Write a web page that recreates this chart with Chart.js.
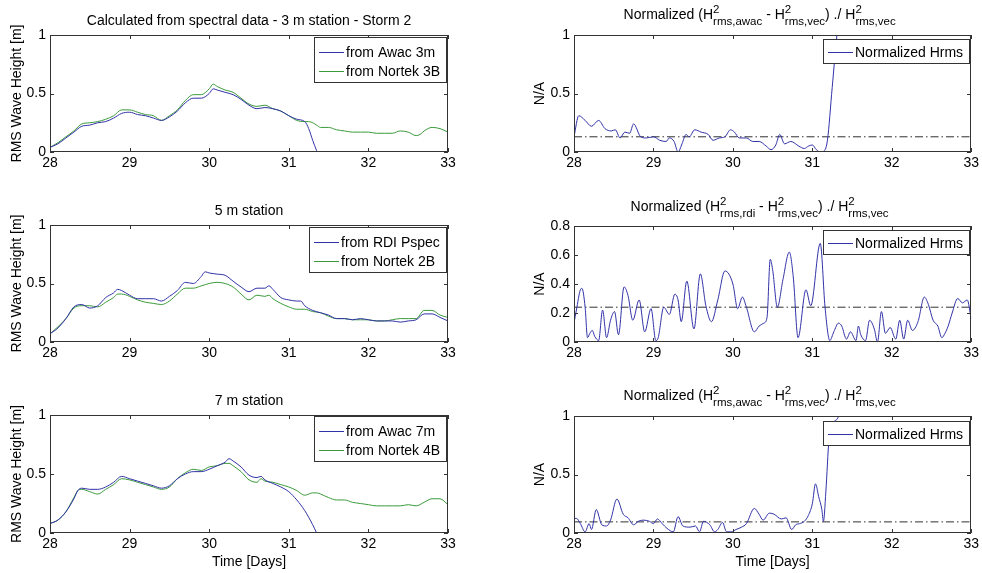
<!DOCTYPE html>
<html><head><meta charset="utf-8">
<script src="https://cdn.jsdelivr.net/npm/chart.js@4/dist/chart.umd.min.js"></script>
<style>
html,body{margin:0;padding:0;background:#fff;}
#wrap{position:relative;width:982px;height:573px;overflow:hidden;background:#fff;}
canvas{position:absolute;}
</style></head><body><div id="wrap">
<canvas id="c1" width="490" height="190" style="left:0;top:0"></canvas>
<canvas id="c2" width="492" height="190" style="left:490px;top:0"></canvas>
<canvas id="c3" width="490" height="190" style="left:0;top:190px"></canvas>
<canvas id="c4" width="492" height="190" style="left:490px;top:190px"></canvas>
<canvas id="c5" width="490" height="193" style="left:0;top:380px"></canvas>
<canvas id="c6" width="492" height="193" style="left:490px;top:380px"></canvas>
</div>
<script>
// ---------------- DATA ----------------
const xTicks = [28, 29, 30, 31, 32, 33];
const yTicksH = [0, 0.5, 1];
const yTicksN = [0, 0.2, 0.4, 0.6, 0.8];

// 3 m station
const days3m = [28.0,28.1,28.2,28.3,28.4,28.5,28.6,28.7,28.8,28.9,29.0,29.1,29.2,29.3,29.4,29.5,29.6,29.7,29.8,29.9,30.0,30.05,30.1,30.2,30.3,30.4,30.5,30.6,30.7,30.8,30.9,31.0,31.1,31.2,31.25,31.3,31.35,31.4,31.5,31.6,31.7,31.8,31.9,32.0,32.1,32.2,32.3,32.4,32.5,32.6,32.65,32.7,32.8,32.9,33.0];
const awac3m = [0.04,0.07,0.12,0.17,0.22,0.23,0.25,0.26,0.29,0.33,
  0.34,0.32,0.31,0.29,0.27,0.30,0.35,0.42,0.46,0.46,
  0.50,0.54,
  0.53,0.51,0.49,0.45,0.40,0.37,0.38,0.37,0.35,0.31,0.28,0.26,
  0.20,0.10,0.01,
  null,null,null,null,null,null,null,null,null,null,null,null,null,null,null,null,null,null];
const nortek3B = [0.04,0.08,0.13,0.18,0.24,0.25,0.26,0.28,0.31,0.36,
  0.36,0.34,0.32,0.31,0.27,0.31,0.36,0.44,0.49,0.49,
  0.54,0.58,
  0.56,0.53,0.51,0.46,0.41,0.39,0.40,0.37,0.35,0.31,0.27,0.26,
  0.26,0.25,0.23,
  0.21,0.21,0.19,0.18,0.17,0.17,0.17,0.16,0.16,0.16,0.18,0.17,0.14,
  0.15,
  0.18,0.21,0.20,0.17];

// 5 m station
const days5m = [28.0,28.1,28.2,28.3,28.4,28.5,28.6,28.7,28.8,28.85,28.9,29.0,29.1,29.2,29.3,29.4,29.5,29.6,29.7,29.8,29.9,29.95,30.0,30.1,30.2,30.3,30.4,30.5,30.6,30.7,30.75,30.8,30.9,31.0,31.1,31.15,31.2,31.3,31.4,31.5,31.6,31.7,31.8,31.9,32.0,32.1,32.2,32.3,32.4,32.5,32.6,32.7,32.8,32.9,33.0];
const rdiPspec = [0.07,0.12,0.20,0.30,0.32,0.29,0.31,0.38,0.42,
  0.45,
  0.44,0.40,0.37,0.37,0.37,0.35,0.39,0.44,0.51,0.50,0.56,
  0.60,
  0.59,0.58,0.57,0.52,0.47,0.43,0.46,0.46,
  0.48,
  0.45,0.38,0.36,0.35,
  0.35,
  0.31,0.27,0.25,0.23,0.20,0.20,0.19,0.20,0.19,0.18,0.18,0.18,0.17,0.18,0.19,0.24,0.24,0.21,0.18];
const nortek2B = [0.07,0.13,0.20,0.29,0.31,0.31,0.30,0.34,0.38,
  0.41,
  0.41,0.39,0.36,0.34,0.33,0.32,0.35,0.41,0.46,0.46,0.48,
  0.49,
  0.50,0.51,0.50,0.47,0.41,0.36,0.40,0.39,
  0.40,
  0.37,0.33,0.30,0.28,
  0.28,
  0.28,0.26,0.25,0.22,0.20,0.20,0.19,0.19,0.19,0.18,0.18,0.19,0.20,0.20,0.20,0.27,0.27,0.23,0.21];

// 7 m station
const days7m = [28.0,28.1,28.2,28.3,28.35,28.4,28.5,28.6,28.7,28.8,28.9,29.0,29.1,29.2,29.3,29.4,29.5,29.6,29.7,29.8,29.9,30.0,30.1,30.2,30.25,30.3,30.4,30.5,30.6,30.65,30.7,30.8,30.9,31.0,31.1,31.2,31.3,31.35,31.4,31.5,31.6,31.7,31.8,31.9,32.0,32.1,32.2,32.3,32.4,32.5,32.6,32.7,32.8,32.9,33.0];
const awac7m = [0.08,0.11,0.18,0.29,
  0.36,
  0.38,0.37,0.37,0.39,0.43,0.48,0.46,0.44,0.42,0.40,0.38,0.40,0.46,0.50,0.52,0.52,0.54,0.57,0.60,
  0.63,
  0.61,0.56,0.49,0.47,
  0.48,
  0.45,0.42,0.39,0.35,0.28,0.19,0.07,
  0.0,
  null,null,null,null,null,null,null,null,null,null,null,null,null,null,null,null,null];
const nortek4B = [0.08,0.11,0.18,0.30,
  0.36,
  0.37,0.35,0.33,0.37,0.41,0.46,0.45,0.43,0.41,0.39,0.37,0.39,0.46,0.51,0.54,0.53,0.56,0.57,0.59,
  0.59,
  0.57,0.52,0.45,0.43,
  0.46,
  0.44,0.43,0.41,0.39,0.36,0.32,0.34,
  0.34,
  0.33,0.30,0.28,0.28,0.26,0.25,0.24,0.23,0.23,0.23,0.23,0.24,0.23,0.26,0.29,0.29,0.24];

// Normalized Hrms (awac, 3 m)
const normDays3m = [28.0,28.06,28.14,28.22,28.31,28.39,28.47,28.52,28.58,28.64,28.70,28.75,28.84,28.91,29.0,29.08,29.16,29.2,29.26,29.31,29.36,29.41,29.45,29.52,29.60,29.69,29.75,29.83,29.90,29.97,30.02,30.08,30.17,30.25,30.33,30.42,30.48,30.54,30.59,30.65,30.73,30.83,30.90,30.95,31.0,31.05,31.1,31.15,31.19,31.25,31.31,31.35];
const normHrms3m = [0.13,0.31,0.27,0.22,0.27,0.20,0.18,0.19,0.12,0.17,0.16,0.24,0.13,0.12,0.13,0.10,0.09,0.12,0.09,0.00,0.07,0.15,0.13,0.19,0.17,0.15,0.10,0.12,0.13,0.19,0.17,0.12,0.12,0.09,0.09,0.05,0.02,0.06,0.15,0.07,0.09,0.05,0.03,0.05,0.06,0.02,0.0,0.01,0.10,0.55,1.0,1.2];
const meanNorm3m = 0.13;

// Normalized Hrms (rdi, 5 m)
const normDays5m = [28.0,28.03,28.08,28.10,28.14,28.17,28.20,28.23,28.26,28.31,28.36,28.41,28.46,28.51,28.56,28.63,28.68,28.74,28.82,28.89,28.97,29.03,29.06,29.13,29.20,29.27,29.31,29.35,29.42,29.51,29.59,29.66,29.73,29.81,29.90,30.00,30.06,30.12,30.17,30.27,30.33,30.39,30.43,30.47,30.50,30.56,30.63,30.71,30.76,30.82,30.92,30.98,31.10,31.16,31.22,31.27,31.33,31.37,31.43,31.48,31.55,31.58,31.61,31.67,31.72,31.78,31.82,31.87,31.92,31.98,32.05,32.10,32.15,32.20,32.26,32.33,32.41,32.46,32.52,32.58,32.63,32.67,32.71,32.76,32.83,32.89,32.95,33.00];
const normHrms5m = [0.13,0.22,0.36,0.37,0.24,0.03,0.06,0.08,0.04,0.01,0.22,0.03,0.15,0.21,0.05,0.38,0.32,0.15,0.29,0.07,0.23,0.01,0.03,0.24,0.19,0.33,0.29,0.14,0.42,0.09,0.47,0.25,0.14,0.29,0.49,0.40,0.23,0.31,0.24,0.07,0.11,0.13,0.17,0.57,0.50,0.24,0.43,0.62,0.45,0.03,0.36,0.25,0.68,0.24,0.01,0.07,0.13,0.11,0.02,0.07,0.01,0.11,0.05,0.01,0.15,0.09,0.00,0.21,0.06,0.10,0.02,0.15,0.02,0.15,0.08,0.14,0.31,0.26,0.15,0.11,0.03,0.06,0.11,0.20,0.30,0.27,0.29,0.16];
const meanNorm5m = 0.24;

// Normalized Hrms (awac, 7 m)
const normDays7m = [28.0,28.03,28.08,28.14,28.19,28.22,28.28,28.35,28.41,28.46,28.54,28.62,28.68,28.75,28.81,28.87,28.95,29.0,29.05,29.11,29.17,29.25,29.31,29.37,29.46,29.53,29.58,29.63,29.71,29.77,29.81,29.87,29.92,29.98,30.04,30.11,30.17,30.27,30.33,30.38,30.46,30.52,30.61,30.67,30.74,30.79,30.84,30.90,30.95,31.00,31.04,31.08,31.12,31.14,31.17,31.21,31.27,31.33,31.36];
const normHrms7m = [0.125,0.125,0.08,0.01,0.08,0.03,0.20,0.07,0.06,0.11,0.29,0.16,0.13,0.07,0.10,0.11,0.10,0.08,0.12,0.08,0.04,0.01,0.14,0.06,0.05,0.06,0.01,0.10,0.07,0.01,0.03,0.09,0.01,0.01,0.03,0.05,0.08,0.21,0.16,0.11,0.17,0.16,0.12,0.13,0.03,0.07,0.08,0.10,0.15,0.25,0.42,0.31,0.20,0.10,0.35,0.80,0.95,1.0,1.2];
const meanNorm7m = 0.095;

// ---------------- STYLE ----------------
const FONT = '"Liberation Sans", Arial, Helvetica, sans-serif';
const BLUE = '#3232a8', GREEN = '#3a9a3a', AXIS = '#333333', MEAN = '#303030';

const titleAwac = [{t:'Normalized (H'},{sup:'2',sub:'rms,awac'},{t:' - H'},{sup:'2',sub:'rms,vec'},{t:') ./ H'},{sup:'2',sub:'rms,vec'}];
const titleRdi  = [{t:'Normalized (H'},{sup:'2',sub:'rms,rdi'},{t:' - H'},{sup:'2',sub:'rms,vec'},{t:') ./ H'},{sup:'2',sub:'rms,vec'}];

const matlabPlugin = {
  id: 'matlab',
  afterDraw(chart, args, o) {
    const ctx = chart.ctx, a = chart.chartArea, xs = chart.scales.x, ys = chart.scales.y;
    const L = Math.round(a.left), T = Math.round(a.top), R = Math.round(a.right), B = Math.round(a.bottom);
    ctx.save();
    ctx.setLineDash([]);
    ctx.strokeStyle = AXIS; ctx.lineWidth = 1;
    // inward ticks on all sides
    ctx.beginPath();
    xs.ticks.forEach(t => {
      const p = Math.round(xs.getPixelForValue(t.value)) + 0.5;
      ctx.moveTo(p, B); ctx.lineTo(p, B - 4);
      ctx.moveTo(p, T); ctx.lineTo(p, T + 4);
    });
    ys.ticks.forEach(t => {
      const p = Math.round(ys.getPixelForValue(t.value)) + 0.5;
      ctx.moveTo(L, p); ctx.lineTo(L + 4, p);
      ctx.moveTo(R, p); ctx.lineTo(R - 4, p);
    });
    ctx.stroke();
    ctx.strokeRect(L + 0.5, T + 0.5, R - L - 1, B - T - 1);

    // title
    ctx.fillStyle = '#000';
    ctx.textAlign = 'left'; ctx.textBaseline = 'alphabetic';
    const segs = o.title;
    const mainF = '14px ' + FONT, subF = '11.5px ' + FONT;
    const widths = segs.map(s => {
      if (s.t !== undefined) { ctx.font = mainF; return ctx.measureText(s.t).width; }
      ctx.font = subF; return Math.max(ctx.measureText(s.sup).width, ctx.measureText(s.sub).width);
    });
    const total = widths.reduce((p, q) => p + q, 0);
    let x = (a.left + a.right) / 2 - total / 2 + (o.titleShift || 0);
    const base = a.top - o.titleGap;
    segs.forEach((s, i) => {
      if (s.t !== undefined) { ctx.font = mainF; ctx.fillText(s.t, x, base); }
      else { ctx.font = subF; ctx.fillText(s.sup, x, base - 6); ctx.fillText(s.sub, x, base + 6); }
      x += widths[i];
    });

    // legend
    const entries = chart.data.datasets.filter(d => !d.isMean).map(d => ({label: d.label, color: d.borderColor}));
    ctx.font = '14px ' + FONT;
    const tw = Math.max(...entries.map(e => ctx.measureText(e.label).width));
    const bw = Math.round(32 + tw + 6);
    const bh = entries.length === 1 ? 24 : 45;
    const bx = R - 2 - bw, by = T + o.legendDy;
    ctx.fillStyle = '#fff';
    ctx.fillRect(bx, by, bw, bh);
    ctx.strokeStyle = AXIS;
    ctx.strokeRect(bx + 0.5, by + 0.5, bw, bh);
    ctx.textBaseline = 'middle';
    entries.forEach((e, i) => {
      const cy = entries.length === 1 ? by + 13 : by + 15 + i * 19;
      ctx.setLineDash([]);
      ctx.strokeStyle = e.color; ctx.lineWidth = 1;
      ctx.beginPath(); ctx.moveTo(bx + 5, cy + 0.5); ctx.lineTo(bx + 30, cy + 0.5); ctx.stroke();
      ctx.fillStyle = '#000';
      ctx.fillText(e.label, bx + 32, cy + 1);
    });
    ctx.restore();
  }
};

function fmtTick(v) { return String(Number(Number(v).toFixed(2))); }

function makeChart(id, o) {
  const cv = document.getElementById(id);
  const W = cv.width, H = cv.height, A = o.area;
  const datasets = o.series.map(s => ({
    label: s.label,
    data: s.x.map((xv, i) => ({x: xv, y: s.y[i]})),
    borderColor: s.color, backgroundColor: s.color, borderWidth: 1, pointRadius: 0,
    fill: false, cubicInterpolationMode: 'monotone', spanGaps: false
  }));
  if (o.mean !== undefined) {
    datasets.push({label: 'mean', isMean: true,
      data: [{x: xTicks[0], y: o.mean}, {x: xTicks[xTicks.length - 1], y: o.mean}],
      borderColor: MEAN, borderWidth: 1, borderDash: [8, 3, 1.5, 3], pointRadius: 0, fill: false});
  }
  const tickFont = {family: FONT, size: 14};
  return new Chart(cv, {
    type: 'line',
    data: {datasets},
    options: {
      responsive: false, animation: false, devicePixelRatio: 1,
      layout: {padding: {left: 0, top: A[1], right: W - A[2], bottom: 0}},
      plugins: {legend: {display: false}, tooltip: {enabled: false}, title: {display: false},
        matlab: {title: o.title, titleGap: o.titleGap, titleShift: o.titleShift, legendDy: o.legendDy}},
      scales: {
        x: {type: 'linear', min: xTicks[0], max: xTicks[xTicks.length - 1],
          afterBuildTicks: s => { s.ticks = xTicks.map(v => ({value: v})); },
          ticks: {padding: 3, color: '#000', font: tickFont, maxRotation: 0, autoSkip: false, callback: fmtTick},
          grid: {display: false, drawTicks: false}, border: {display: false},
          title: {display: !!o.xTitle, text: o.xTitle || '', color: '#000', font: tickFont, padding: {top: 0, bottom: 2}},
          afterFit: s => { s.height = H - A[3]; }},
        y: {type: 'linear', min: o.yTicks[0], max: o.yTicks[o.yTicks.length - 1],
          afterBuildTicks: s => { s.ticks = o.yTicks.map(v => ({value: v})); },
          ticks: {padding: 4, color: '#000', font: tickFont, callback: fmtTick},
          grid: {display: false, drawTicks: false}, border: {display: false},
          title: {display: true, text: o.yTitle, color: '#000', font: tickFont, padding: {top: o.yTitlePad, bottom: 0}},
          afterFit: s => { s.width = A[0]; }}
      }
    },
    plugins: [matlabPlugin]
  });
}

makeChart('c1', {area: [50, 35, 448, 152], yTicks: yTicksH, yTitle: 'RMS Wave Height [m]', yTitlePad: 9,
  title: [{t: 'Calculated from spectral data - 3 m station - Storm 2'}], titleGap: 10, legendDy: 2,
  series: [{label: 'from Awac 3m', color: BLUE, x: days3m, y: awac3m},
           {label: 'from Nortek 3B', color: GREEN, x: days3m, y: nortek3B}]});
makeChart('c2', {area: [84, 35, 482, 152], yTicks: yTicksH, yTitle: 'N/A', yTitlePad: 42,
  title: titleAwac, titleGap: 16, titleShift: -13, legendDy: 4, mean: meanNorm3m,
  series: [{label: 'Normalized Hrms', color: BLUE, x: normDays3m, y: normHrms3m}]});
makeChart('c3', {area: [50, 35, 448, 152], yTicks: yTicksH, yTitle: 'RMS Wave Height [m]', yTitlePad: 9,
  title: [{t: '5 m station'}], titleGap: 10, legendDy: 2,
  series: [{label: 'from RDI Pspec', color: BLUE, x: days5m, y: rdiPspec},
           {label: 'from Nortek 2B', color: GREEN, x: days5m, y: nortek2B}]});
makeChart('c4', {area: [84, 36, 482, 152], yTicks: yTicksN, yTitle: 'N/A', yTitlePad: 42,
  title: titleRdi, titleGap: 15, titleShift: -13, legendDy: 4, mean: meanNorm5m,
  series: [{label: 'Normalized Hrms', color: BLUE, x: normDays5m, y: normHrms5m}]});
makeChart('c5', {area: [50, 35, 448, 153], yTicks: yTicksH, yTitle: 'RMS Wave Height [m]', yTitlePad: 9,
  xTitle: 'Time [Days]',
  title: [{t: '7 m station'}], titleGap: 10, legendDy: 1,
  series: [{label: 'from Awac 7m', color: BLUE, x: days7m, y: awac7m},
           {label: 'from Nortek 4B', color: GREEN, x: days7m, y: nortek4B}]});
makeChart('c6', {area: [84, 36, 482, 153], yTicks: yTicksH, yTitle: 'N/A', yTitlePad: 42,
  xTitle: 'Time [Days]',
  title: titleAwac, titleGap: 16, titleShift: -13, legendDy: 5, mean: meanNorm7m,
  series: [{label: 'Normalized Hrms', color: BLUE, x: normDays7m, y: normHrms7m}]});
</script>
</body></html>
